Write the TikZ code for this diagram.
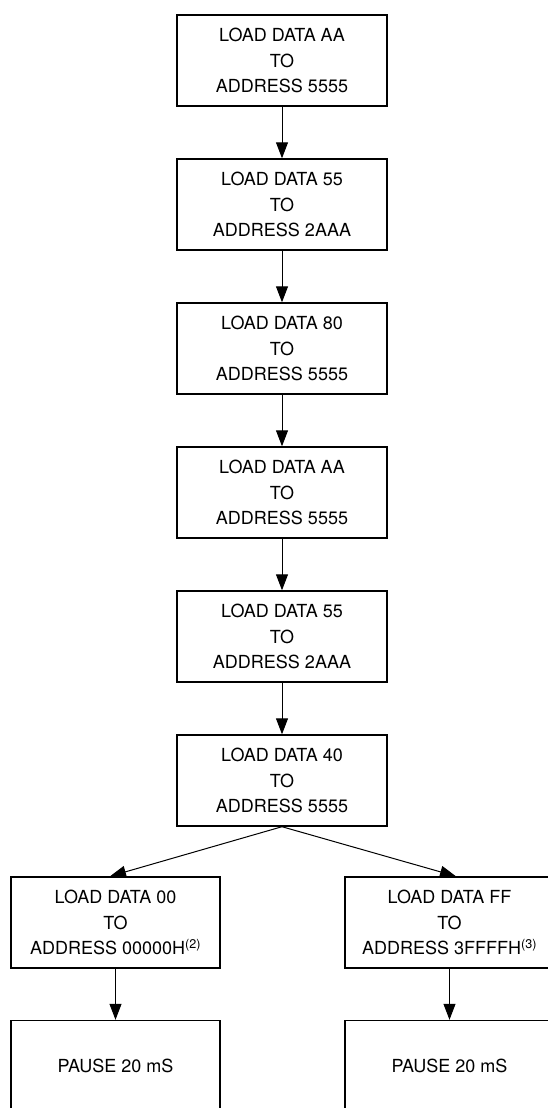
\documentclass[tikz,border=0pt]{standalone}
\usepackage{fontspec}
\setmainfont{TeX Gyre Heros}
\usetikzlibrary{arrows.meta,calc}
\tikzset{
  stepbox/.style={draw, line width=1.4pt, minimum width=210pt, minimum height=91pt,
    align=center, inner sep=0pt, font=\fontsize{18}{25.5}\selectfont},
  sidebox/.style={stepbox, minimum width=209pt},
  flow/.style={line width=1pt, -{Triangle[length=16pt,width=12pt]}}
}
\begin{document}
\begin{tikzpicture}[x=1pt,y=-1pt]
\useasboundingbox (0,0) rectangle (548,1108);
\node[stepbox] (b1) at (282,60.5) {LOAD DATA AA\\TO\\ADDRESS 5555};
\node[stepbox] (b2) at (282,204.5) {LOAD DATA 55\\TO\\ADDRESS 2AAA};
\node[stepbox] (b3) at (282,348.5) {LOAD DATA 80\\TO\\ADDRESS 5555};
\node[stepbox] (b4) at (282,492.5) {LOAD DATA AA\\TO\\ADDRESS 5555};
\node[stepbox] (b5) at (282,636.5) {LOAD DATA 55\\TO\\ADDRESS 2AAA};
\node[stepbox] (b6) at (282,780.5) {LOAD DATA 40\\TO\\ADDRESS 5555};
\node[sidebox] (l1) at (115.5,922.5) {LOAD DATA 00\\TO\\ADDRESS 00000H\textsuperscript{(2)}};
\node[sidebox] (r1) at (449.5,922.5) {LOAD DATA FF\\TO\\ADDRESS 3FFFFH\textsuperscript{(3)}};
\node[sidebox] (l2) at (115.5,1066) {PAUSE 20 mS};
\node[sidebox] (r2) at (449.5,1066) {PAUSE 20 mS};
\coordinate (lt) at ($(l1.north)+(-5.5,0)$);
\coordinate (rt) at ($(r1.north)+(6.5,0)$);
\draw[flow] (b1) -- (b2);
\draw[flow] (b2) -- (b3);
\draw[flow] (b3) -- (b4);
\draw[flow] (b4) -- (b5);
\draw[flow] (b5) -- (b6);
\draw[flow] (b6.south) -- (lt);
\draw[flow] (b6.south) -- (rt);
\draw[flow] (l1) -- (l2);
\draw[flow] (r1) -- (r2);
\end{tikzpicture}
\end{document}
